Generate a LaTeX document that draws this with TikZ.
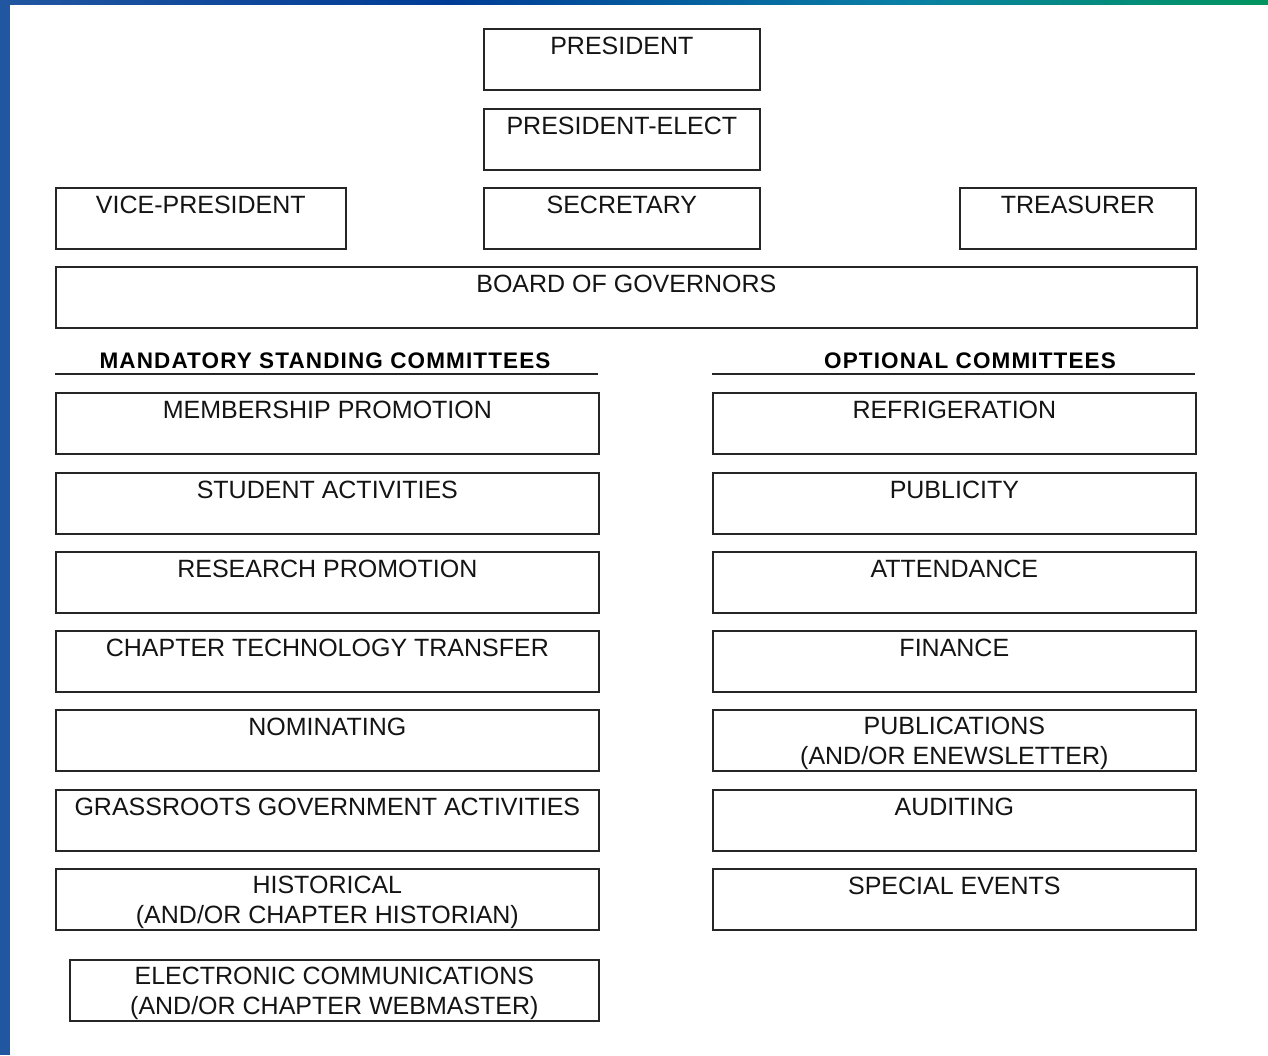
\documentclass[tikz,border=0pt]{standalone}
\usepackage{fontspec}
\setmainfont{Liberation Sans}
\newfontfamily\hdrfont[LetterSpace=5.0]{Liberation Sans}
\definecolor{boxc}{HTML}{262626}
\definecolor{txt}{HTML}{141414}
\definecolor{barblue}{HTML}{2156A0}
\definecolor{bardark}{HTML}{003C96}
\definecolor{barteal}{HTML}{0A7FA5}
\definecolor{bargreen}{HTML}{00955F}
\newcommand\obox[6]{%
  \node[box, minimum width=#4pt] (#1) at (#2,#3) {};
  \node[lbl] (#1-t) at ([yshift=-#6pt]#1.north) {#5};}
\begin{document}
\begin{tikzpicture}[x=1pt,y=-1pt,
  box/.style={draw=boxc, line width=1.7pt, minimum height=61pt, inner sep=0pt, anchor=north west},
  lbl/.style={anchor=north, inner sep=0pt, font=\fontsize{25}{30}\selectfont, text=txt, align=center},
  hdr/.style={anchor=base, inner sep=0pt, font=\hdrfont\bfseries\fontsize{22.5}{26}\selectfont, text=black},
  hrule/.style={draw=boxc, line width=1.7pt}]
\useasboundingbox (0,0) rectangle (1268,1055);
\fill[white] (0,0) rectangle (1268,1055);
\fill[barblue] (0,0) rectangle (9.5,1055);
\shade[left color=barblue, right color=bardark] (0,0) rectangle (450,4.5);
\shade[left color=bardark, right color=barteal] (450,0) rectangle (900,4.5);
\shade[left color=barteal, right color=bargreen] (900,0) rectangle (1268,4.5);

% officers
\obox{pres}{483}{28}{276}{PRESIDENT}{9}
\obox{prese}{483}{108}{276}{PRESIDENT-ELECT}{9}
\obox{vp}{55}{187}{290}{VICE-PRESIDENT}{9}
\obox{sec}{483}{187}{276}{SECRETARY}{9}
\obox{treas}{959}{187}{236}{TREASURER}{9}
\obox{board}{55}{266}{1141}{BOARD OF GOVERNORS}{9}

% headers
\node[hdr] (mand) at (325,368) {MANDATORY STANDING COMMITTEES};
\node[hdr] (opt) at (970,368) {OPTIONAL COMMITTEES};
\coordinate (ml) at (55,374); \coordinate (mr) at (598,374);
\coordinate (ol) at (712,374); \coordinate (or) at (1195,374);
\draw[hrule] (ml) -- (mr);
\draw[hrule] (ol) -- (or);

% mandatory committees
\obox{m1}{55}{392}{543}{MEMBERSHIP PROMOTION}{9}
\obox{m2}{55}{472}{543}{STUDENT ACTIVITIES}{9}
\obox{m3}{55}{551}{543}{RESEARCH PROMOTION}{9}
\obox{m4}{55}{630}{543}{CHAPTER TECHNOLOGY TRANSFER}{9}
\obox{m5}{55}{709}{543}{NOMINATING}{9}
\obox{m6}{55}{789}{543}{GRASSROOTS GOVERNMENT ACTIVITIES}{9}
\obox{m7}{55}{868}{543}{HISTORICAL\\(AND/OR CHAPTER HISTORIAN)}{7.5}
\obox{m8}{69}{959}{529}{ELECTRONIC COMMUNICATIONS\\(AND/OR CHAPTER WEBMASTER)}{7.5}

% optional committees
\obox{o1}{712}{392}{483}{REFRIGERATION}{9}
\obox{o2}{712}{472}{483}{PUBLICITY}{9}
\obox{o3}{712}{551}{483}{ATTENDANCE}{9}
\obox{o4}{712}{630}{483}{FINANCE}{9}
\obox{o5}{712}{709}{483}{PUBLICATIONS\\(AND/OR ENEWSLETTER)}{7.5}
\obox{o6}{712}{789}{483}{AUDITING}{9}
\obox{o7}{712}{868}{483}{SPECIAL EVENTS}{9}
\end{tikzpicture}
\end{document}
